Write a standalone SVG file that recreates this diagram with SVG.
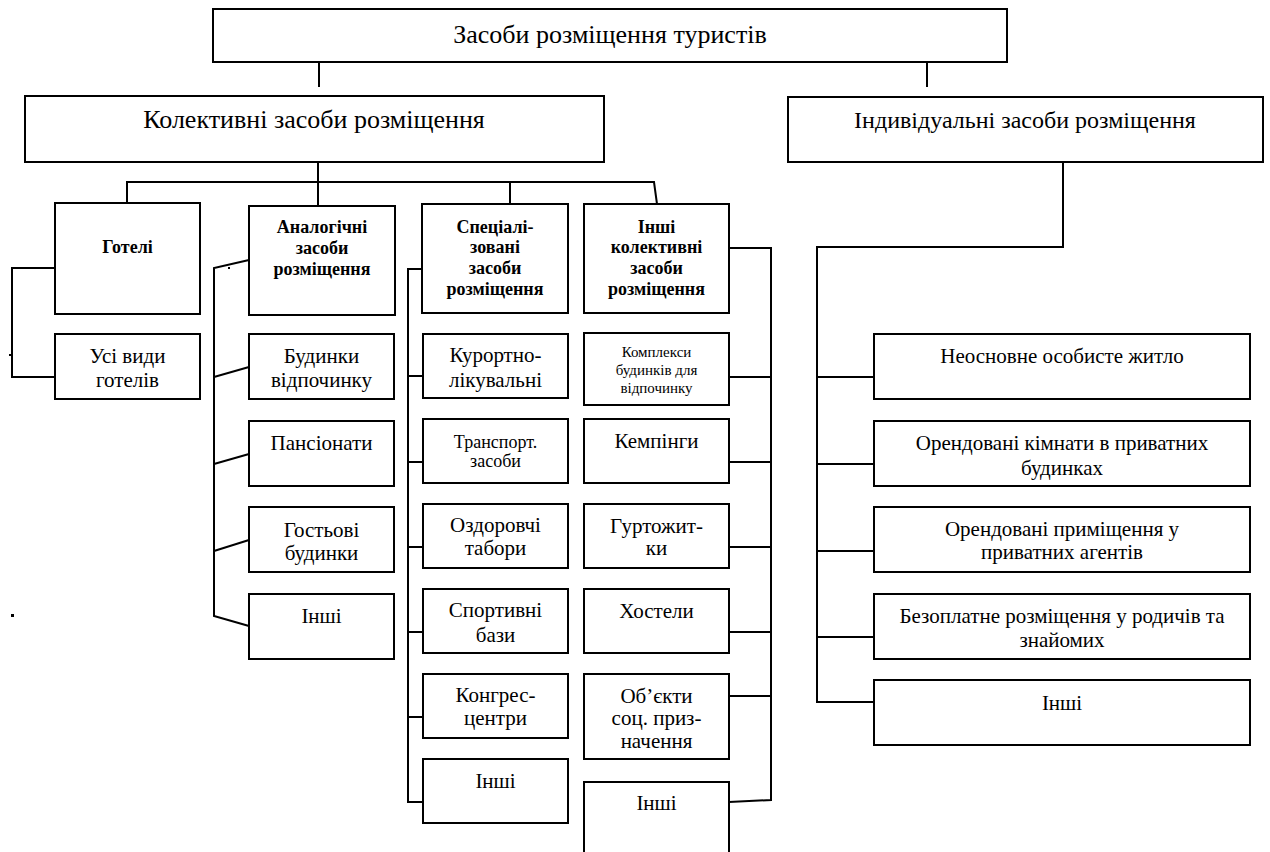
<svg xmlns="http://www.w3.org/2000/svg" width="1270" height="852" viewBox="0 0 1270 852">
<style>
.box{fill:#fff;stroke:#000;stroke-width:2}
.ln{fill:none;stroke:#000;stroke-width:2}
text{font-family:"Liberation Serif","Times New Roman",serif;fill:#000;text-anchor:middle}
.t1{font-size:26px}
.t2{font-size:24px}
.b{font-size:18px;font-weight:bold}
.n{font-size:21px}
.s{font-size:18px}
.xs{font-size:15px}
</style>
<rect width="1270" height="852" fill="#fff"/>
<g id="connectors">
<path class="ln" d="M319,62 V87"/>
<path class="ln" d="M927,62 V87"/>
<path class="ln" d="M318,162 V206"/>
<path class="ln" d="M127,203 V182 H654 L657,204"/>
<path class="ln" d="M510,182 V204"/>
<path class="ln" d="M55,268 H12 V377 H55"/>
<path class="ln" d="M12,355 H9"/>
<path class="ln" d="M249,260 L214,268 V616 L249,626"/>
<path class="ln" d="M214,377 L249,367"/>
<path class="ln" d="M214,464 L249,454"/>
<path class="ln" d="M214,551 L249,540"/>
<path class="ln" d="M422,269 H408 V802 H423"/>
<path class="ln" d="M408,376 H423 M408,462 H423 M408,547 H423 M408,632 H423 M408,717 H423"/>
<path class="ln" d="M729,248 H771 V800 L729,802"/>
<path class="ln" d="M729,377 H771 M729,462 H771 M729,547 H771 M729,632 H771 M729,696 H771"/>
<path class="ln" d="M1063,162 V247 H817 V702 H874"/>
<path class="ln" d="M817,377 H874 M817,464 H874 M817,551 H874 M817,637 H874"/>
<rect x="228" y="267" width="2" height="2" fill="#000"/>
<rect x="11" y="614" width="3" height="3" fill="#000"/>
</g>
<g id="n-root"><rect class="box" x="213" y="9" width="794" height="53"/><text class="t1" x="610" y="43">Засоби розміщення туристів</text></g>
<g id="n-coll"><rect class="box" x="25" y="96" width="579" height="66"/><text class="t1" x="314" y="128">Колективні засоби розміщення</text></g>
<g id="n-ind"><rect class="box" x="788" y="97" width="475" height="65"/><text class="t2" x="1025" y="128">Індивідуальні засоби розміщення</text></g>
<g id="n-hotels"><rect class="box" x="55" y="203" width="145" height="111"/><text class="b" x="127.5" y="253">Готелі</text></g>
<g id="n-analog"><rect class="box" x="249" y="206" width="146" height="109"/><text class="b" x="322" y="233">Аналогічні</text><text class="b" x="322" y="254">засоби</text><text class="b" x="322" y="275">розміщення</text></g>
<g id="n-spec"><rect class="box" x="422" y="204" width="146" height="109"/><text class="b" x="495" y="233">Спеціалі-</text><text class="b" x="495" y="253">зовані</text><text class="b" x="495" y="274">засоби</text><text class="b" x="495" y="295">розміщення</text></g>
<g id="n-other"><rect class="box" x="584" y="204" width="145" height="109"/><text class="b" x="656.5" y="233">Інші</text><text class="b" x="656.5" y="253">колективні</text><text class="b" x="656.5" y="274">засоби</text><text class="b" x="656.5" y="295">розміщення</text></g>
<g id="n-allhotels"><rect class="box" x="55" y="334" width="145" height="65"/><text class="n" x="127.5" y="363">Усі види</text><text class="n" x="127.5" y="387">готелів</text></g>
<g id="n-rest"><rect class="box" x="249" y="334" width="145" height="65"/><text class="n" x="321.5" y="363">Будинки</text><text class="n" x="321.5" y="387">відпочинку</text></g>
<g id="n-pans"><rect class="box" x="249" y="421" width="145" height="65"/><text class="n" x="321.5" y="450">Пансіонати</text></g>
<g id="n-guest"><rect class="box" x="249" y="507" width="145" height="65"/><text class="n" x="321.5" y="537">Гостьові</text><text class="n" x="321.5" y="560">будинки</text></g>
<g id="n-analog-other"><rect class="box" x="249" y="594" width="145" height="65"/><text class="n" x="321.5" y="623">Інші</text></g>
<g id="n-resort"><rect class="box" x="423" y="334" width="145" height="64"/><text class="n" x="495.5" y="362">Курортно-</text><text class="n" x="495.5" y="387">лікувальні</text></g>
<g id="n-transport"><rect class="box" x="423" y="419" width="145" height="64"/><text class="s" x="495.5" y="448">Транспорт.</text><text class="s" x="495.5" y="467">засоби</text></g>
<g id="n-camps"><rect class="box" x="423" y="504" width="145" height="64"/><text class="n" x="495.5" y="532">Оздоровчі</text><text class="n" x="495.5" y="555">табори</text></g>
<g id="n-sport"><rect class="box" x="423" y="589" width="145" height="64"/><text class="n" x="495.5" y="617">Спортивні</text><text class="n" x="495.5" y="642">бази</text></g>
<g id="n-congress"><rect class="box" x="423" y="674" width="145" height="64"/><text class="n" x="495.5" y="702">Конгрес-</text><text class="n" x="495.5" y="725">центри</text></g>
<g id="n-spec-other"><rect class="box" x="423" y="759" width="145" height="64"/><text class="n" x="495.5" y="788">Інші</text></g>
<g id="n-complex"><rect class="box" x="584" y="333" width="145" height="72"/><text class="xs" x="656.5" y="357">Комплекси</text><text class="xs" x="656.5" y="375">будинків для</text><text class="xs" x="656.5" y="393">відпочинку</text></g>
<g id="n-camping"><rect class="box" x="584" y="419" width="145" height="64"/><text class="n" x="656.5" y="448">Кемпінги</text></g>
<g id="n-dorm"><rect class="box" x="584" y="504" width="145" height="64"/><text class="n" x="656.5" y="533">Гуртожит-</text><text class="n" x="656.5" y="555">ки</text></g>
<g id="n-hostel"><rect class="box" x="584" y="589" width="145" height="64"/><text class="n" x="656.5" y="618">Хостели</text></g>
<g id="n-social"><rect class="box" x="584" y="674" width="145" height="85"/><text class="n" x="656.5" y="703">Об’єкти</text><text class="n" x="656.5" y="725">соц. приз-</text><text class="n" x="656.5" y="748">начення</text></g>
<g id="n-other-other"><rect class="box" x="584" y="782" width="145" height="80"/><text class="n" x="656.5" y="810">Інші</text></g>
<g id="n-secondary"><rect class="box" x="874" y="334" width="376" height="65"/><text class="n" x="1062" y="363">Неосновне особисте житло</text></g>
<g id="n-rooms"><rect class="box" x="874" y="421" width="376" height="65"/><text class="n" x="1062" y="450">Орендовані кімнати в приватних</text><text class="n" x="1062" y="475">будинках</text></g>
<g id="n-agents"><rect class="box" x="874" y="507" width="376" height="65"/><text class="n" x="1062" y="536">Орендовані приміщення у</text><text class="n" x="1062" y="559">приватних агентів</text></g>
<g id="n-free"><rect class="box" x="874" y="594" width="376" height="65"/><text class="n" x="1062" y="623">Безоплатне розміщення у родичів та</text><text class="n" x="1062" y="647">знайомих</text></g>
<g id="n-ind-other"><rect class="box" x="874" y="680" width="376" height="65"/><text class="n" x="1062" y="710">Інші</text></g>
</svg>
